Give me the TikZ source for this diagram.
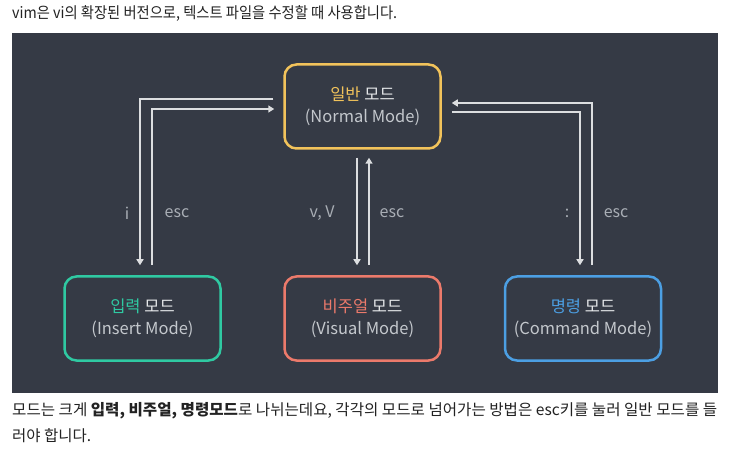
\documentclass[tikz,border=0pt]{standalone}
\usepackage{fontspec}
\setmainfont{Noto Sans CJK KR}
\usetikzlibrary{arrows.meta}
\definecolor{panel}{HTML}{353A45}
\definecolor{cyel}{HTML}{F2C35B}
\definecolor{cteal}{HTML}{2FC9A2}
\definecolor{csalmon}{HTML}{EC7A6B}
\definecolor{cblue}{HTML}{4C9FE3}
\definecolor{wtext}{HTML}{E6E8EA}
\definecolor{gtext}{HTML}{C4C8CD}
\definecolor{ltext}{HTML}{A9AEB5}
\definecolor{arr}{HTML}{DCDEE0}
\definecolor{body}{HTML}{222222}
\tikzset{
  mode/.style={draw, line width=2.5pt, rounded corners=12pt, fill=panel,
    minimum width=156pt, minimum height=84pt, align=center, text=gtext,
    font=\fontsize{16.5}{22}\selectfont},
  conn/.style={draw=arr, line width=1.8pt, -{Triangle[width=7pt,length=6pt]}},
  keylbl/.style={text=ltext, font=\fontsize{16}{18}\selectfont},
  bodytxt/.style={anchor=west, inner sep=0pt, text=body, font=\fontsize{15.5}{20}\selectfont}
}
\begin{document}
\begin{tikzpicture}[x=1pt,y=1pt]
\useasboundingbox (0,0) rectangle (739,461);
\fill[white] (0,0) rectangle (739,461);
\fill[panel] (12,68) rectangle (718,428);

\node[bodytxt] (title) at (12,448) {\resizebox{385pt}{\height}{vim은 vi의 확장된 버전으로, 텍스트 파일을 수정할 때 사용합니다.}};
\node[bodytxt] (line1) at (12,50) {\resizebox{705pt}{\height}{모드는 크게 \textbf{입력, 비주얼, 명령모드}로 나뉘는데요, 각각의 모드로 넘어가는 방법은 esc키를 눌러 일반 모드를 들}};
\node[bodytxt] (line2) at (12,25) {\resizebox{79pt}{\height}{러야 합니다.}};

\node[mode, draw=cyel] (normal) at (362.5,354.5) {{\color{cyel}일반} {\color{wtext}모드}\\(Normal Mode)};
\node[mode, draw=cteal] (insert) at (142.5,142.5) {{\color{cteal}입력} {\color{wtext}모드}\\(Insert Mode)};
\node[mode, draw=csalmon] (visual) at (362.5,142.5) {{\color{csalmon}비주얼} {\color{wtext}모드}\\(Visual Mode)};
\node[mode, draw=cblue] (command) at (583,142.5) {{\color{cblue}명령} {\color{wtext}모드}\\(Command Mode)};

% Normal <-> Insert
\draw[conn] ([xshift=-10pt,yshift=7.5pt]normal.west) -| ([xshift=-2.5pt,yshift=10pt]insert.north);
\draw[conn] ([xshift=9.5pt,yshift=10pt]insert.north) |- ([xshift=-9pt,yshift=-2.5pt]normal.west);
% Normal <-> Visual
\draw[conn] ([xshift=-5.5pt,yshift=-8pt]normal.south) -- ([xshift=-5.5pt,yshift=10pt]visual.north);
\draw[conn] ([xshift=6.5pt,yshift=10pt]visual.north) -- ([xshift=6.5pt,yshift=-8pt]normal.south);
% Normal <-> Command
\draw[conn] ([xshift=10pt,yshift=-5.5pt]normal.east) -| ([xshift=-3pt,yshift=10pt]command.north);
\draw[conn] ([xshift=9pt,yshift=10pt]command.north) |- ([xshift=10pt,yshift=3.5pt]normal.east);

\node[keylbl] (li) at (127,248) {i};
\node[keylbl] (lesc1) at (177,248) {esc};
\node[keylbl] (lv) at (322,248) {v, V};
\node[keylbl] (lesc2) at (392,248) {esc};
\node[keylbl] (lcol) at (567,248) {:};
\node[keylbl] (lesc3) at (616,248) {esc};
\end{tikzpicture}
\end{document}
